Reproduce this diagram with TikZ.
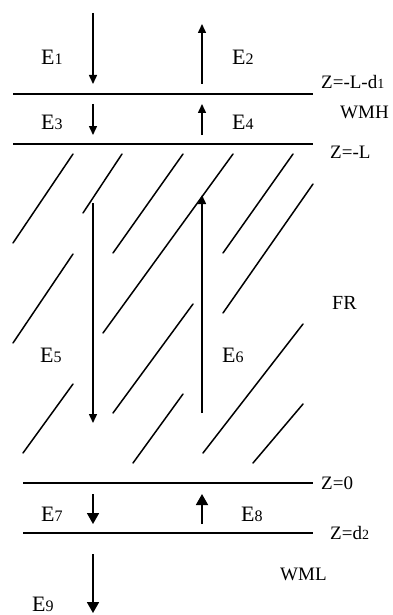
\documentclass[tikz,border=0pt]{standalone}
\usepackage{fontspec}
\setmainfont{Liberation Serif}
\usetikzlibrary{arrows.meta}
\tikzset{
  layer/.style={line width=2.4pt},
  hatch/.style={line width=1.5pt, line cap=round},
  flux/.style={line width=1.5pt, -{Triangle[length=9pt,width=8pt]}},
  bigflux/.style={line width=1.8pt, -{Triangle[length=11pt,width=12pt]}},
  elab/.style={anchor=west, inner sep=0pt, font=\fontsize{22}{22}\selectfont},
  zlab/.style={anchor=west, inner sep=0pt, font=\fontsize{19}{19}\selectfont},
}
\newcommand{\esb}[1]{{\fontsize{16}{16}\selectfont #1}}
\newcommand{\zsb}[1]{{\fontsize{14}{14}\selectfont #1}}
\begin{document}
\begin{tikzpicture}[x=1pt,y=-1pt]
\useasboundingbox (0,0) rectangle (392,615);
% layer lines
\draw[layer] (13,94) -- (313,94);
\draw[layer] (13,144) -- (313,144);
\draw[layer] (23,483) -- (313,483);
\draw[layer] (23,533) -- (313,533);
% hatching
\draw[hatch] (13,243) -- (73,154);
\draw[hatch] (83,213) -- (122,154);
\draw[hatch] (113,253) -- (183,154);
\draw[hatch] (103,333) -- (233,154);
\draw[hatch] (223,253) -- (293,154);
\draw[hatch] (223,313) -- (313,184);
\draw[hatch] (13,343) -- (73,254);
\draw[hatch] (113,413) -- (193,304);
\draw[hatch] (23,453) -- (73,384);
\draw[hatch] (133,463) -- (183,394);
\draw[hatch] (203,453) -- (303,324);
\draw[hatch] (253,463) -- (303,404);
% arrow end points
\coordinate (a1s) at (93,13);  \coordinate (a1e) at (93,84);
\coordinate (a2s) at (202,84); \coordinate (a2e) at (202,24);
\coordinate (a3s) at (93,104); \coordinate (a3e) at (93,135);
\coordinate (a4s) at (202,135);\coordinate (a4e) at (202,104);
\coordinate (a5s) at (93,203); \coordinate (a5e) at (93,423);
\coordinate (a6s) at (202,413);\coordinate (a6e) at (202,195);
\coordinate (a7s) at (93,494); \coordinate (a7e) at (93,524);
\coordinate (a8s) at (202,524);\coordinate (a8e) at (202,494);
\coordinate (a9s) at (93,554); \coordinate (a9e) at (93,613);
\draw[flux] (a1s) -- (a1e);
\draw[flux] (a2s) -- (a2e);
\draw[flux] (a3s) -- (a3e);
\draw[flux] (a4s) -- (a4e);
\draw[flux] (a5s) -- (a5e);
\draw[flux] (a6s) -- (a6e);
\draw[bigflux] (a7s) -- (a7e);
\draw[bigflux] (a8s) -- (a8e);
\draw[bigflux] (a9s) -- (a9e);
% E labels
\node[elab] (e1) at (41,57) {E\esb{1}};
\node[elab] (e2) at (232,57) {E\esb{2}};
\node[elab] (e3) at (41,122) {E\esb{3}};
\node[elab] (e4) at (232,122) {E\esb{4}};
\node[elab] (e5) at (40,355) {E\esb{5}};
\node[elab] (e6) at (222,355) {E\esb{6}};
\node[elab] (e7) at (41,514) {E\esb{7}};
\node[elab] (e8) at (241,514) {E\esb{8}};
\node[elab] (e9) at (32,604) {E\esb{9}};
% Z labels
\node[zlab] (z1) at (321,82) {Z=-L-d\zsb{1}};
\node[zlab] (wmh) at (340,112) {WMH};
\node[zlab] (z2) at (330,152) {Z=-L};
\node[zlab, font=\fontsize{20}{20}\selectfont] (fr) at (332,303) {FR};
\node[zlab] (z3) at (321,483) {Z=0};
\node[zlab] (z4) at (330,533) {Z=d\zsb{2}};
\node[zlab] (wml) at (280,574) {WML};
\end{tikzpicture}
\end{document}
